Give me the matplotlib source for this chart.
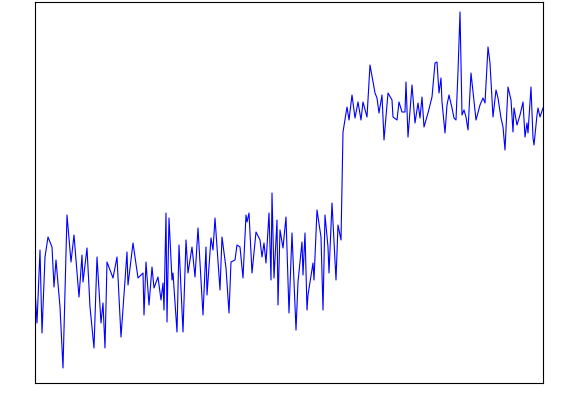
import matplotlib
matplotlib.use("Agg")
import matplotlib.pyplot as plt

x = [35,37,40,42,45,48,52,54,56,60,63,67,71,74,79,82,83,87,90,94,97,101,103,105,107,113,117,121,127,128,133,138,143,144,146,149,152,154,158,161,163,164,166,167,169,172,173,177,179,183,186,188,192,195,198,
     203,206,207,211,213,215,220,222,226,229,231,235,237,240,243,246,247,249,252,256,260,262,264,266,269,271,272,274,277,278,280,283,286,289,292,296,298,302,303,305,307,308,313,314,317,321,323,325,328,329,332,336,338,341,
     343,347,349,352,355,358,361,363,367,370,375,377,379,382,384,388,392,393,397,399,402,405,406,408,412,415,418,420,422,424,428,432,435,437,439,441,442,445,447,449,452,454,456,458,460,462,464,466,468,471,473,476,480,483,485,488,490,493,496,498,501,503,505,508,511,513,514,517,520,523,525,527,528,531,533,534,537,538,540,543]
py = [290,323,250,333,257,237,247,287,260,307,368,215,262,235,297,255,282,248,307,348,257,323,303,348,262,278,257,337,252,285,243,278,273,315,262,305,267,288,277,300,283,310,213,322,218,280,273,332,245,332,240,273,247,277,228,
      315,247,295,238,250,218,290,237,268,313,262,260,245,247,278,215,222,213,273,232,240,257,243,263,213,280,193,278,220,305,230,248,217,313,233,330,282,242,275,233,310,295,263,280,210,237,310,215,247,273,203,280,225,240,
      132,107,120,95,118,102,120,102,117,65,93,98,113,95,140,93,100,117,120,102,112,112,82,137,85,123,103,118,97,127,113,97,63,62,93,78,102,133,105,95,108,118,120,72,12,115,110,117,130,73,92,120,105,98,103,47,63,117,90,98,118,127,150,87,100,132,108,125,115,102,137,123,133,87,138,145,115,108,117,108]
y = [400 - v for v in py]

fig = plt.figure(figsize=(5.78, 4.20), dpi=100)
ax = fig.add_axes([35/578, 1-383/420, 508/578, 381/420])
ax.plot(x, y, color="blue", lw=0.8)
ax.set_xlim(35, 543)
ax.set_ylim(400-383, 400-2)
ax.set_xticks([]); ax.set_yticks([])
fig.savefig("out.png", dpi=100)
